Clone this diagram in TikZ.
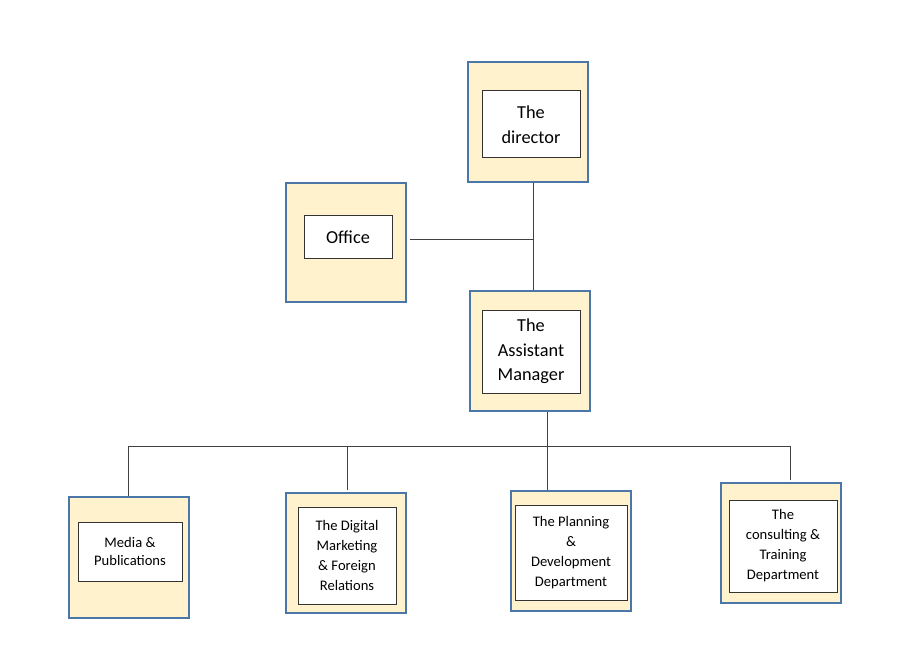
\documentclass[tikz,border=0pt]{standalone}
\usepackage{fontspec}
\setmainfont{Carlito}
\begin{document}
\begin{tikzpicture}[x=1pt,y=-1pt,
  outerbox/.style={draw=outerblue, fill=outerfill, line width=1.2pt, minimum width=120pt, minimum height=120pt, inner sep=0pt},
  innerbox/.style={draw=innergray, fill=white, line width=1pt, inner sep=0pt, align=center},
  bigtext/.style={font=\fontsize{18.3}{24.5}\selectfont},
  smalltext/.style={font=\fontsize{14.6}{20}\selectfont},
  conn/.style={draw=linegray, line width=0.9pt}]
\definecolor{outerblue}{HTML}{4A76A8}
\definecolor{outerfill}{HTML}{FFF2CC}
\definecolor{innergray}{HTML}{333333}
\definecolor{linegray}{HTML}{404040}
\useasboundingbox (0,0) rectangle (900,671);
\fill[white] (0,0) rectangle (900,671);
% outer boxes
\node[outerbox] (dirO) at (528,122) {};
\node[outerbox, minimum height=119pt] (offO) at (346,242.5) {};
\node[outerbox] (asstO) at (530,351) {};
\node[outerbox, minimum height=121pt] (medO) at (129,557.5) {};
\node[outerbox] (digO) at (346,553) {};
\node[outerbox] (plaO) at (571,551) {};
\node[outerbox] (conO) at (781,543) {};
% inner boxes
\node[innerbox, bigtext, minimum width=98pt, minimum height=67pt] (dir) at (531,124.5) {The\\director};
\node[innerbox, bigtext, minimum width=88pt, minimum height=43pt] (off) at (348,237.5) {Office};
\node[innerbox, bigtext, minimum width=98pt, minimum height=83pt] (asst) at (531,351.5) {The\\Assistant\\Manager};
\node[innerbox, smalltext, font=\fontsize{14.6}{18.5}\selectfont, minimum width=104pt, minimum height=59pt] (med) at (130,551.5) {Media \&\\Publications};
\node[innerbox, smalltext, minimum width=98pt, minimum height=97pt] (dig) at (347,555.5) {The Digital\\Marketing\\\& Foreign\\Relations};
\node[innerbox, smalltext, minimum width=112pt, minimum height=95pt] (pla) at (571,552.5) {The Planning\\\&\\Development\\Department};
\node[innerbox, smalltext, minimum width=108pt, minimum height=92pt] (con) at (783,546) {The\\consulting \&\\Training\\Department};
% connectors
\coordinate (bus) at (128,446);
\draw[conn] ([xshift=5pt]dirO.south) -- ([xshift=3pt]asstO.north);
\draw[conn] ([xshift=3pt,yshift=3.5pt]offO.east) -- ([yshift=3.5pt]offO.east -| 533,0);
\draw[conn] (128,446) -- (790,446);
\draw[conn] ([xshift=17pt]asstO.south) -- ([xshift=-24pt]plaO.north);
\draw[conn] ([xshift=-1pt]medO.north) -- ([xshift=-1pt]medO.north |- bus);
\draw[conn] ([xshift=1pt,yshift=2pt]digO.north) -- ([xshift=1pt]digO.north |- bus);
\draw[conn] ([xshift=9pt,yshift=2pt]conO.north) -- ([xshift=9pt]conO.north |- bus);
\end{tikzpicture}
\end{document}
